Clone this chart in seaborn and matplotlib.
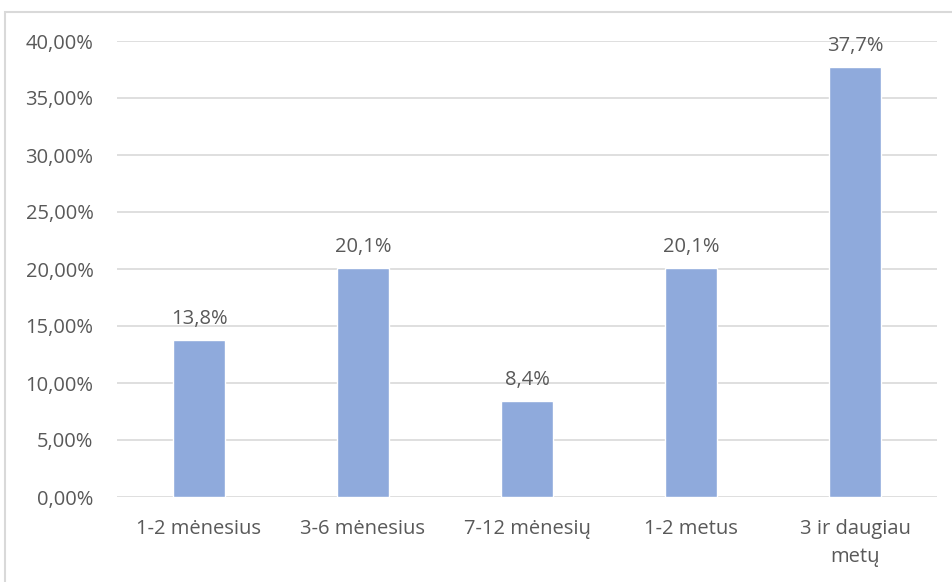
import matplotlib
matplotlib.use("Agg")
import matplotlib.pyplot as plt
from matplotlib.patches import Rectangle
from matplotlib.ticker import FuncFormatter, MultipleLocator
import seaborn as sns
import pandas as pd

categories = ["1-2 mėnesius", "3-6 mėnesius", "7-12 mėnesių", "1-2 metus", "3 ir daugiau\nmetų"]
shares = [13.8, 20.1, 8.4, 20.1, 37.7]

sns.set_theme(style="white")
plt.rcParams["font.family"] = ["Open Sans", "DejaVu Sans"]

text_color = "#595959"
grid_color = "#d9d9d9"
bar_color = "#8faadc"
fs = 14.5

df = pd.DataFrame({"category": categories, "share": shares})

fig = plt.figure(figsize=(9.52, 5.82), dpi=100)
ax = fig.add_axes([117 / 952, 1 - 497 / 582, 820 / 952, 456 / 582])

sns.barplot(data=df, x="category", y="share", color=bar_color, width=0.317,
            saturation=1, ax=ax, zorder=3)

ax.set_ylim(0, 40)
ax.set_xlim(-0.5, len(categories) - 0.5)
ax.yaxis.set_major_locator(MultipleLocator(5))
ax.yaxis.set_major_formatter(FuncFormatter(lambda v, _: f"{v:.2f}%".replace(".", ",")))
ax.grid(axis="y", color=grid_color, linewidth=1.2, zorder=0)
ax.set_axisbelow(True)
for s in ax.spines.values():
    s.set_visible(False)
ax.tick_params(axis="both", length=0, labelsize=fs, colors=text_color)
ax.tick_params(axis="y", pad=17)
ax.tick_params(axis="x", pad=16)
for lbl in ax.get_xticklabels():
    lbl.set_linespacing(1.55)
ax.set_xlabel("")
ax.set_ylabel("")

for i, v in enumerate(shares):
    ax.annotate(f"{v:.1f}%".replace(".", ","), (i, v), xytext=(0, 8),
                textcoords="offset points", ha="center", va="bottom",
                fontsize=fs, color=text_color)

# outer chart frame
fig.patches.append(Rectangle((5 / 952, -0.2), 1.2, 1.2 - 12 / 582, transform=fig.transFigure,
                             fill=False, edgecolor=grid_color, linewidth=1.5))

fig.savefig("out.png", dpi=100, facecolor="white")
